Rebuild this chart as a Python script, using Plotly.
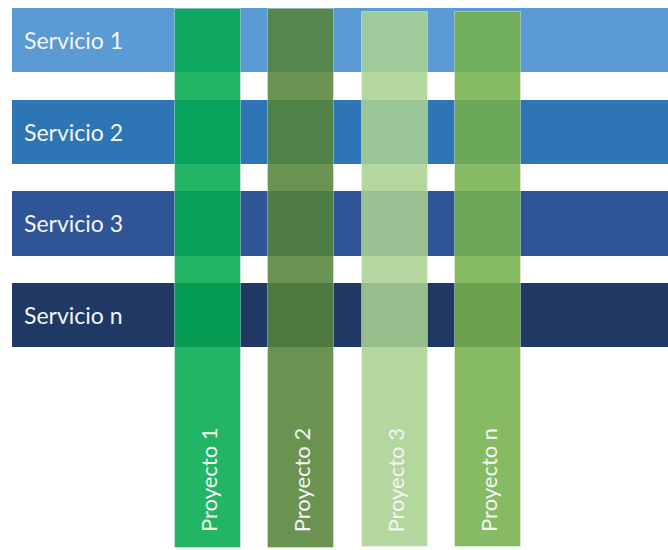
import plotly.graph_objects as go

# ---- data ----
services = ["Servicio 1", "Servicio 2", "Servicio 3", "Servicio n"]
service_colors = ["#5B9BD5", "#2E75B6", "#2F5597", "#203864"]

projects = ["Proyecto 1", "Proyecto 2", "Proyecto 3", "Proyecto n"]
project_colors = ["rgba(2,170,79,0.87)", "rgba(84,131,56,0.87)",
                  "rgba(169,209,146,0.87)", "rgba(116,177,76,0.87)"]

W, H = 668, 550
FONT = "Lato"

# column top/bottom edges (layout, in pixels)
col_top = [9, 9, 12, 12]
col_bottom = [548, 548, 547, 547]

fig = go.Figure()

# horizontal service bands (x in pixel units, y categorical)
fig.add_trace(go.Bar(
    orientation="h",
    y=services,
    x=[W] * len(services),
    base=12,
    width=0.70,
    marker=dict(color=service_colors, line=dict(width=0)),
    xaxis="x", yaxis="y",
    hoverinfo="y",
    showlegend=False,
))

# vertical project columns (x categorical, y in pixel units)
fig.add_trace(go.Bar(
    x=projects,
    y=[b - t for t, b in zip(col_top, col_bottom)],
    base=col_top,
    width=0.707,
    marker=dict(color=project_colors, line=dict(width=1, color="rgba(255,255,255,0.35)")),
    xaxis="x2", yaxis="y2",
    hoverinfo="x",
    showlegend=False,
))

annotations = []
for s in services:
    annotations.append(dict(
        x=22, y=s, xref="x", yref="y", text=s, showarrow=False,
        xanchor="left", yanchor="middle",
        font=dict(family=FONT, size=23, color="#F4F4F4"),
    ))
for p in projects:
    annotations.append(dict(
        x=p, y=480, xref="x2", yref="y2", text=p, showarrow=False,
        textangle=-90, xanchor="center", yanchor="middle",
        font=dict(family=FONT, size=22, color="#F4F4F4"),
    ))

# pixel-aligned axes
sy0, sstep = 40, 91.7
px0, pstep = 208, 93.3

fig.update_layout(
    width=W, height=H,
    margin=dict(l=0, r=0, t=0, b=0),
    paper_bgcolor="white", plot_bgcolor="white",
    xaxis=dict(range=[0, W], visible=False, fixedrange=True),
    yaxis=dict(type="category", range=[(H - sy0) / sstep, -sy0 / sstep],
               visible=False, fixedrange=True),
    xaxis2=dict(type="category", overlaying="x", anchor="y2",
                range=[-px0 / pstep, (W - px0) / pstep],
                visible=False, fixedrange=True),
    yaxis2=dict(range=[H, 0], overlaying="y", anchor="x2",
                visible=False, fixedrange=True),
    annotations=annotations,
    bargap=0,
)

fig.write_html("out.html", config={"displayModeBar": False},
               post_script="document.body.style.margin='0';document.body.style.overflow='hidden';")
